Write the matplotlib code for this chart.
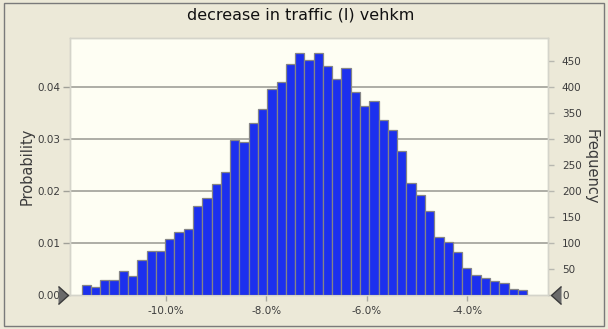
import numpy as np
import matplotlib
matplotlib.use("Agg")
from matplotlib import pyplot as plt
from matplotlib.patches import Rectangle

# histogram of the simulated decrease in traffic (% change in vehicle-km)
n_samples = 10000
bin_start = -11.68      # left edge of first bin, %
bin_width = 0.1849      # %
freq = [19, 16, 28, 28, 47, 37, 67, 84, 84, 108,
        122, 126, 171, 186, 213, 237, 298, 295, 331, 358,
        397, 409, 444, 466, 451, 466, 441, 415, 437, 391,
        364, 373, 336, 317, 276, 215, 193, 162, 112, 101,
        82, 51, 39, 32, 27, 23, 12, 10]
xticks = [-10.0, -8.0, -6.0, -4.0]
prob_ticks = [0.00, 0.01, 0.02, 0.03, 0.04]
freq_ticks = list(range(0, 451, 50))

bg = '#ECE9D8'
txt = '#3c3c3c'
edges = bin_start + bin_width*np.arange(len(freq))

fig = plt.figure(figsize=(6.08, 3.29), dpi=100, facecolor=bg)
ax = fig.add_axes([70/608, 1-295/329, 478/608, 257/329])
ax.set_facecolor('#FEFEF3')
ax2 = ax.twinx()

y_top = 257/52*0.01
ax.set_ylim(0, y_top)
ax2.set_ylim(0, y_top*n_samples)
ax.set_xlim(-11.91, -2.39)

ax2.bar(edges, freq, width=bin_width, align='edge', color='#1C30EE',
        edgecolor='#858585', linewidth=0.9, zorder=3)

# probability grid
for p in prob_ticks[1:]:
    ax.axhline(p, color='#a0a098', lw=1.2, zorder=1)

ax.set_yticks(prob_ticks)
ax.set_yticklabels(['%.2f' % p for p in prob_ticks])
ax2.set_yticks(freq_ticks)
ax.set_xticks(xticks)
ax.set_xticklabels(['%.1f%%' % v for v in xticks])

ax.tick_params(axis='y', length=5, width=1, color='#a0a098', pad=2,
               labelsize=7.5, labelcolor=txt)
ax.tick_params(axis='x', length=4, width=1, color='#a8a8a0', pad=4,
               labelsize=7.5, labelcolor=txt)
ax2.tick_params(axis='y', length=4, width=1, color='#b8b8b0', pad=6,
                labelsize=7.5, labelcolor=txt)

for a in (ax, ax2):
    for s in a.spines.values():
        s.set_color('#d4d4ca')
        s.set_linewidth(1)

ax.set_ylabel('Probability', fontsize=10.5, color=txt, labelpad=2)
ax2.set_ylabel('Frequency', fontsize=10.5, color=txt, rotation=270, labelpad=12)

fig.text(0.494, 1-15/329, 'decrease in traffic (l) vehkm', ha='center', va='center',
         fontsize=11.5, color='#111111')

# slider handles at both ends of the baseline
tri_r = [(-1, -1.8), (1, 0), (-1, 1.8)]
tri_l = [(1, -1.8), (-1, 0), (1, 1.8)]
ax.plot([-0.015], [0], marker=tri_r, markersize=13, color='#6a6a6a',
        markeredgecolor='#3a3a3a', transform=ax.transAxes, clip_on=False, zorder=6)
ax2.plot([1.017], [0], marker=tri_l, markersize=13, color='#6a6a6a',
         markeredgecolor='#3a3a3a', transform=ax2.transAxes, clip_on=False, zorder=6)

fig.patches.append(Rectangle((4/608, 3/329), 600/608, 323/329, transform=fig.transFigure,
                             fill=False, edgecolor='#7a7a7a', lw=1))

fig.savefig('out.png', dpi=100, facecolor=bg)
